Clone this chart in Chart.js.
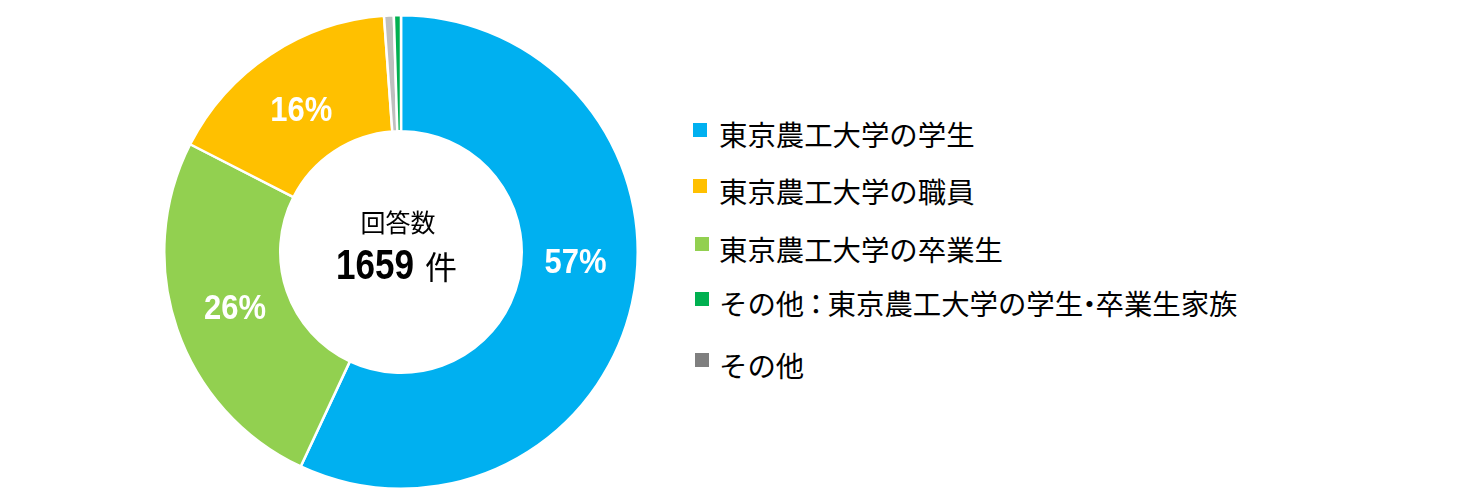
<!DOCTYPE html>
<html lang="ja">
<head>
<meta charset="utf-8">
<script src="https://cdn.jsdelivr.net/npm/chart.js@4/dist/chart.umd.min.js"></script>
<style>
  html, body { margin: 0; padding: 0; background: #fff; }
  body { width: 1466px; height: 504px; position: relative; overflow: hidden; }
  #chart-box { position: absolute; left: 163px; top: 14px; width: 476px; height: 476px; }
  #legend { position: absolute; left: 0; top: 0; font-family: "Noto Sans CJK JP", sans-serif; font-size: 28.4px; color: #000; }
  .legend-box { position: absolute; width: 14px; height: 14px; }
  .legend-text { position: absolute; left: 719px; line-height: 1; white-space: nowrap; }
  .colon { margin: 0 -2.5px; }
  .dot { margin: 0 -8px; }
</style>
</head>
<body>
<div id="chart-box"><canvas id="pie"></canvas></div>
<div id="legend"></div>
<script>
// --- Data (chart order, clockwise from top) ---
const categories = [
  '東京農工大学の学生',
  '東京農工大学の卒業生',
  '東京農工大学の職員',
  'その他',
  'その他：東京農工大学の学生・卒業生家族'
];
const counts = [945, 424, 271, 11, 8];
const legendOrder = [0, 2, 1, 4, 3];
const centerTitle = '回答数';
const centerUnit = '件';

// --- Style / layout ---
const sliceColors = ['#00b0f0', '#92d050', '#ffc000', '#bfbfbf', '#00b050'];
const legendColors = ['#00b0f0', '#92d050', '#ffc000', '#7f7f7f', '#00b050'];
const boxTop = [123, 179, 237, 292, 353];
const boxLeft = [693, 693, 695, 695, 695];
const textTop = [120, 177, 235, 289, 351];

const total = counts.reduce((a, b) => a + b, 0);

// --- Legend (HTML) ---
const legendEl = document.getElementById('legend');
legendOrder.forEach((idx, row) => {
  const box = document.createElement('div');
  box.className = 'legend-box';
  box.style.left = boxLeft[row] + 'px';
  box.style.top = boxTop[row] + 'px';
  box.style.background = legendColors[idx];
  const txt = document.createElement('div');
  txt.className = 'legend-text';
  txt.style.top = textTop[row] + 'px';
  // punctuation is set a little tighter, as in the original
  txt.innerHTML = categories[idx]
    .replace('：', '<span class="colon">：</span>')
    .replace('・', '<span class="dot">・</span>');
  legendEl.appendChild(box);
  legendEl.appendChild(txt);
});

// --- Plugins ---
const sliceLabels = {
  id: 'sliceLabels',
  afterDatasetsDraw(chart, args, opts) {
    const ctx = chart.ctx;
    const meta = chart.getDatasetMeta(0);
    meta.data.forEach((arc, i) => {
      const pct = counts[i] / total * 100;
      if (pct < 5) return;
      const p = arc.getProps(['x', 'y', 'startAngle', 'endAngle', 'innerRadius', 'outerRadius'], true);
      const nudge = (opts.nudge[i] || 0) * Math.PI / 180;
      const a = (p.startAngle + p.endAngle) / 2 + nudge;
      const r = (p.innerRadius + p.outerRadius) / 2 - 4;
      const x = p.x + Math.cos(a) * r;
      const y = p.y + Math.sin(a) * r;
      ctx.save();
      ctx.fillStyle = '#fff';
      ctx.font = 'bold 35px "Liberation Sans", sans-serif';
      ctx.textAlign = 'center';
      ctx.textBaseline = 'alphabetic';
      ctx.translate(x, y + 12.5);
      ctx.scale(0.885, 1);
      ctx.fillText(Math.round(pct) + '%', 0, 0);
      ctx.restore();
    });
  }
};

const centerText = {
  id: 'centerText',
  afterDraw(chart) {
    const ctx = chart.ctx;
    const arc = chart.getDatasetMeta(0).data[0];
    const cx = arc.x, cy = arc.y;
    ctx.save();
    ctx.fillStyle = '#000';
    ctx.textBaseline = 'alphabetic';
    ctx.textAlign = 'center';
    ctx.font = '25px "Noto Sans CJK JP", sans-serif';
    ctx.fillText(centerTitle, cx - 3, cy - 20);

    ctx.textAlign = 'left';
    ctx.save();
    ctx.font = 'bold 42px "Liberation Sans", sans-serif';
    ctx.translate(cx - 65, cy + 26.5);
    ctx.scale(0.835, 1);
    ctx.fillText(String(total), 0, 0);
    ctx.restore();

    ctx.font = '32px "Noto Sans CJK JP", sans-serif';
    ctx.fillText(centerUnit, cx + 24, cy + 26.5);
    ctx.restore();
  }
};

// --- Chart ---
new Chart(document.getElementById('pie'), {
  type: 'doughnut',
  data: {
    labels: categories,
    datasets: [{
      data: counts,
      backgroundColor: sliceColors,
      borderColor: '#ffffff',
      borderWidth: 2.5
    }]
  },
  options: {
    responsive: true,
    maintainAspectRatio: false,
    animation: false,
    cutout: '51%',
    layout: { padding: 0 },
    plugins: {
      legend: { display: false },
      tooltip: { enabled: false },
      sliceLabels: { nudge: [-9.8, 0.7, -1.3, 0, 0] }
    }
  },
  plugins: [sliceLabels, centerText]
});
</script>
</body>
</html>
